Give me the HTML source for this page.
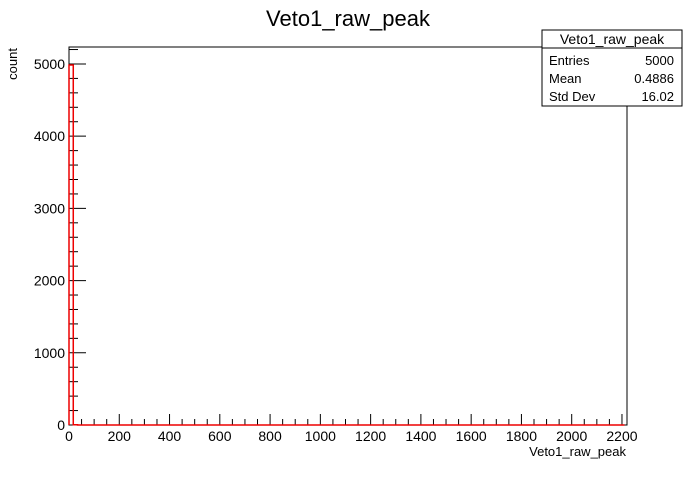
<!DOCTYPE html>
<html><head><meta charset="utf-8"><style>
body{margin:0;background:#fff;}
svg text{font-family:"Liberation Sans",Arial,sans-serif;}
</style></head><body>
<svg width="696" height="472" viewBox="0 0 696 472" xmlns="http://www.w3.org/2000/svg">
<rect width="696" height="472" fill="#fff"/>
<text x="348" y="26" font-size="22" text-anchor="middle">Veto1_raw_peak</text>
<rect x="69" y="47" width="558" height="378" fill="none" stroke="#000" stroke-width="1"/>
<g id="axes"></g>
<g id="bars"></g>
<text x="626" y="456" font-size="13" text-anchor="end">Veto1_raw_peak</text>
<text x="17" y="48" font-size="13" text-anchor="end" transform="rotate(-90 17 48)">count</text>
<g>
<rect x="542" y="30" width="140" height="76" fill="#fff" stroke="#000"/>
<line x1="542" y1="48" x2="682" y2="48" stroke="#000"/>
<text x="612" y="44" font-size="14" text-anchor="middle">Veto1_raw_peak</text>
<text x="549" y="65" font-size="13">Entries</text><text x="674" y="65" font-size="13" text-anchor="end">5000</text>
<text x="549" y="83" font-size="13">Mean</text><text x="674" y="83" font-size="13" text-anchor="end">0.4886</text>
<text x="549" y="101" font-size="13">Std Dev</text><text x="674" y="101" font-size="13" text-anchor="end">16.02</text>
</g>
</svg>
<script>
const binEdges=[0,17,34];
const binCounts=[4985,3];
const xTicks=[0,200,400,600,800,1000,1200,1400,1600,1800,2000,2200];
const yTicks=[0,1000,2000,3000,4000,5000];
const X0=69,X1=627,Y0=425,Y1=47,XMAX=2220,YMAX=5235;
const sx=v=>X0+(v/XMAX)*(X1-X0);
const sy=v=>Y0-(v/YMAX)*(Y0-Y1);
const NS="http://www.w3.org/2000/svg";
const ax=document.getElementById('axes');
function ln(x1,y1,x2,y2,c,name){const l=document.createElementNS(NS,'line');l.setAttribute('x1',x1);l.setAttribute('y1',y1);l.setAttribute('x2',x2);l.setAttribute('y2',y2);l.setAttribute('stroke',c);


ax.appendChild(l);}
function tx(x,y,s,a,name){const t=document.createElementNS(NS,'text');t.setAttribute('x',x);t.setAttribute('y',y);t.setAttribute('font-size','14');t.setAttribute('text-anchor',a);t.textContent=s;


ax.appendChild(t);}
xTicks.forEach(v=>{const x=sx(v);ln(x,Y0,x,Y0-11,'#000','x-major-tick');tx(x,441,String(v),'middle','x-tick-label');});
for(let v=50;v<XMAX;v+=50){if(v%200)ln(sx(v),Y0,sx(v),Y0-6,'#000','x-minor-tick');}
yTicks.forEach(v=>{const y=sy(v);ln(X0,y,X0+17,y,'#000','y-major-tick');tx(65,y+5,String(v),'end','y-tick-label');});
for(let v=200;v<YMAX;v+=200){if(v%1000)ln(X0,sy(v),X0+9,sy(v),'#000','y-minor-tick');}
const bg=document.getElementById('bars');
let d='M'+sx(binEdges[0])+','+Y0;
binCounts.forEach((c,i)=>{d+=' L'+sx(binEdges[i])+','+sy(c)+' L'+sx(binEdges[i+1])+','+sy(c);});
d+=' L'+sx(binEdges[binEdges.length-1])+','+sy(0)+' L'+sx(2210)+','+sy(0);
const p=document.createElementNS(NS,'path');p.setAttribute('d',d);p.setAttribute('fill','none');p.setAttribute('stroke','#e00');p.setAttribute('stroke-width','1.5');


bg.appendChild(p);
</script>
</body></html>
